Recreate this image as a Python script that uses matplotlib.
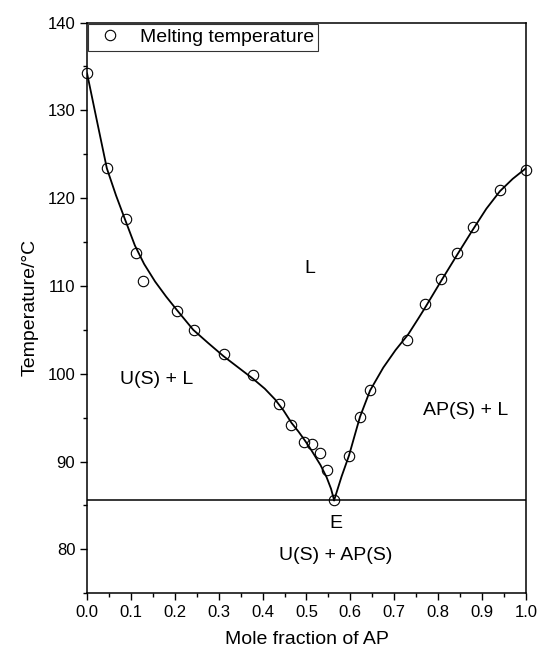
import numpy as np
import matplotlib
matplotlib.use("Agg")
import matplotlib.pyplot as plt
from matplotlib.ticker import MultipleLocator

plt.rcParams['font.family'] = ['Liberation Sans', 'DejaVu Sans']

# measured melting temperatures (mole fraction of AP, deg C)
x_meas = [0.0, 0.045, 0.088, 0.112, 0.128, 0.206, 0.243, 0.312, 0.377, 0.437,
          0.465, 0.495, 0.513, 0.531, 0.547, 0.563, 0.597, 0.621, 0.645, 0.729,
          0.770, 0.806, 0.844, 0.879, 0.941, 1.0]
t_meas = [134.2, 123.4, 117.6, 113.8, 110.6, 107.2, 105.0, 102.3, 99.9, 96.6,
          94.2, 92.2, 92.0, 90.95, 89.0, 85.6, 90.6, 95.1, 98.1, 103.8,
          108.0, 110.8, 113.8, 116.7, 120.9, 123.2]

# liquidus curves
x_left = [0.0, 0.022, 0.045, 0.066, 0.087, 0.109, 0.130, 0.155, 0.180, 0.204,
          0.242, 0.276, 0.311, 0.345, 0.379, 0.405, 0.428, 0.448, 0.466, 0.482,
          0.495, 0.506, 0.516, 0.532, 0.546, 0.556, 0.563]
t_left = [134.2, 128.9, 123.4, 120.3, 117.5, 114.6, 112.5, 110.5, 108.8, 107.3,
          105.0, 103.5, 102.0, 100.7, 99.4, 98.3, 97.1, 95.8, 94.4, 93.4,
          92.5, 91.7, 90.9, 89.6, 88.2, 86.9, 85.6]
x_right = [0.563, 0.580, 0.597, 0.610, 0.622, 0.645, 0.675, 0.703, 0.732, 0.755,
           0.770, 0.806, 0.844, 0.879, 0.910, 0.941, 0.970, 1.0]
t_right = [85.6, 88.3, 90.7, 93.0, 95.1, 98.1, 100.7, 102.7, 104.5, 106.3,
           107.5, 110.5, 113.6, 116.4, 118.8, 120.8, 122.2, 123.4]

t_eutectic = 85.6

fig = plt.figure(figsize=(5.41, 6.56), dpi=100)
ax = fig.add_axes([0.161, 0.0956, 0.811, 0.870])

ax.axhline(t_eutectic, color='black', lw=1.1)
ax.plot(x_left, t_left, color='black', lw=1.3)
ax.plot(x_right, t_right, color='black', lw=1.3)
ax.plot(x_meas, t_meas, 'o', mfc='none', mec='black', ms=7.5, mew=0.8,
        label='Melting temperature', clip_on=False)

ax.set_xlim(0, 1.0)
ax.set_ylim(75, 140)
ax.xaxis.set_major_locator(MultipleLocator(0.1))
ax.xaxis.set_minor_locator(MultipleLocator(0.05))
ax.yaxis.set_major_locator(MultipleLocator(10))
ax.yaxis.set_minor_locator(MultipleLocator(5))
ax.xaxis.set_major_formatter(matplotlib.ticker.FormatStrFormatter('%.1f'))
ax.tick_params(which='both', direction='out', top=False, right=False,
               labelsize=12, width=1.0)
ax.tick_params(which='major', length=5)
ax.tick_params(which='minor', length=3)
for s in ax.spines.values():
    s.set_linewidth(1.1)

ax.set_xlabel('Mole fraction of AP', fontsize=14, labelpad=8)
ax.set_ylabel('Temperature/\u00b0C', fontsize=14, labelpad=6)

ax.text(0.508, 112.0, 'L', fontsize=14, ha='center', va='center')
ax.text(0.159, 99.4, 'U(S) + L', fontsize=14, ha='center', va='center')
ax.text(0.863, 95.8, 'AP(S) + L', fontsize=14, ha='center', va='center')
ax.text(0.567, 83.0, 'E', fontsize=14, ha='center', va='center')
ax.text(0.567, 79.3, 'U(S) + AP(S)', fontsize=14, ha='center', va='center')

leg = ax.legend(loc='upper left', bbox_to_anchor=(0.002, 0.998), fontsize=14,
                frameon=True, fancybox=False, borderaxespad=0, borderpad=0.25,
                handletextpad=0.6, handlelength=1.8)
leg.get_frame().set_edgecolor('black')
leg.get_frame().set_linewidth(0.8)

fig.savefig('out.png', dpi=100)
